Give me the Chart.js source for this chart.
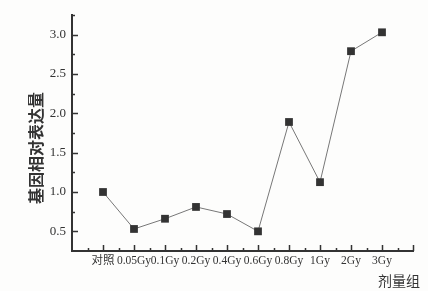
<!DOCTYPE html>
<html>
<head>
<meta charset="utf-8">
<script src="https://cdn.jsdelivr.net/npm/chart.js@4"></script>
<style>
  html, body { margin: 0; padding: 0; background: #fdfdfc; }
  #wrap { width: 428px; height: 291px; }
</style>
</head>
<body>
<div id="wrap"><canvas id="chart" width="428" height="291"></canvas></div>
<script>
const categories = ["对照", "0.05Gy", "0.1Gy", "0.2Gy", "0.4Gy", "0.6Gy", "0.8Gy", "1Gy", "2Gy", "3Gy"];
const expression = [1.0, 0.53, 0.66, 0.81, 0.72, 0.50, 1.89, 1.125, 2.79, 3.03];
const yLabelValues = [0.5, 1.0, 1.5, 2.0, 2.5, 3.0];
const yTitle = "基因相对表达量";
const xTitle = "剂量组";

const ink = "#333";
const latin = "'Liberation Serif', 'Noto Sans CJK SC', serif";

// ticks point into the plot, like the original
const inwardTicks = {
  id: "inwardTicks",
  afterDraw(chart) {
    const ctx = chart.ctx;
    const xs = chart.scales.x, ys = chart.scales.y;
    ctx.save();
    ctx.strokeStyle = ink;
    ctx.lineWidth = 1.5;
    xs.ticks.forEach(t => {
      if (t.value <= xs.min) return;
      const px = Math.round(xs.getPixelForValue(t.value)) + 0.5;
      const len = Number.isInteger(t.value) ? 6 : 3;
      ctx.beginPath();
      ctx.moveTo(px, ys.bottom);
      ctx.lineTo(px, ys.bottom - len);
      ctx.stroke();
    });
    ys.ticks.forEach(t => {
      if (t.value <= ys.min) return;
      const py = Math.round(ys.getPixelForValue(t.value)) + 0.5;
      const len = Math.abs(t.value * 2 - Math.round(t.value * 2)) < 1e-6 ? 6 : 3;
      ctx.beginPath();
      ctx.moveTo(xs.left, py);
      ctx.lineTo(xs.left + len, py);
      ctx.stroke();
    });
    ctx.fillStyle = ink;
    ctx.font = "bold 16px 'Noto Sans CJK SC'";
    ctx.textAlign = "center";
    ctx.textBaseline = "middle";
    ctx.save();
    ctx.translate(36, 148);
    ctx.rotate(-Math.PI / 2);
    ctx.fillText(yTitle, 0, 0);
    ctx.restore();
    ctx.font = "14px 'Noto Sans CJK SC'";
    ctx.fillText(xTitle, 399, 281);
    ctx.restore();
  }
};

new Chart(document.getElementById("chart"), {
  type: "line",
  data: {
    datasets: [{
      data: expression.map((v, i) => ({ x: i, y: v })),
      borderColor: "#777",
      borderWidth: 1,
      pointStyle: "rect",
      pointRadius: 5.5,
      pointBackgroundColor: "#333",
      pointBorderColor: "#333",
      pointBorderWidth: 0,
      tension: 0
    }]
  },
  options: {
    responsive: false,
    animation: false,
    layout: { padding: { top: 15, right: 15, left: 0, bottom: 0 } },
    plugins: { legend: { display: false }, tooltip: { enabled: false } },
    scales: {
      x: {
        type: "linear",
        min: -1,
        max: 10,
        afterFit: s => { s.height = 40; },
        ticks: {
          stepSize: 0.5,
          autoSkip: false,
          maxRotation: 0,
          padding: 3,
          color: ink,
          font: { family: latin, size: 11.5 },
          callback: v => (Number.isInteger(v) && v >= 0 && v < categories.length) ? categories[v] : ""
        },
        grid: { display: false, drawTicks: false },
        border: { display: true, color: ink, width: 2 }
      },
      y: {
        min: 0.25,
        max: 3.25,
        afterFit: s => { s.width = 72; },
        ticks: {
          stepSize: 0.25,
          autoSkip: false,
          padding: 6,
          color: ink,
          font: { family: latin, size: 13 },
          callback: v => yLabelValues.some(l => Math.abs(l - v) < 1e-6) ? v.toFixed(1) : ""
        },
        grid: { display: false, drawTicks: false },
        border: { display: true, color: ink, width: 2 }
      }
    }
  },
  plugins: [inwardTicks]
});
</script>
</body>
</html>
